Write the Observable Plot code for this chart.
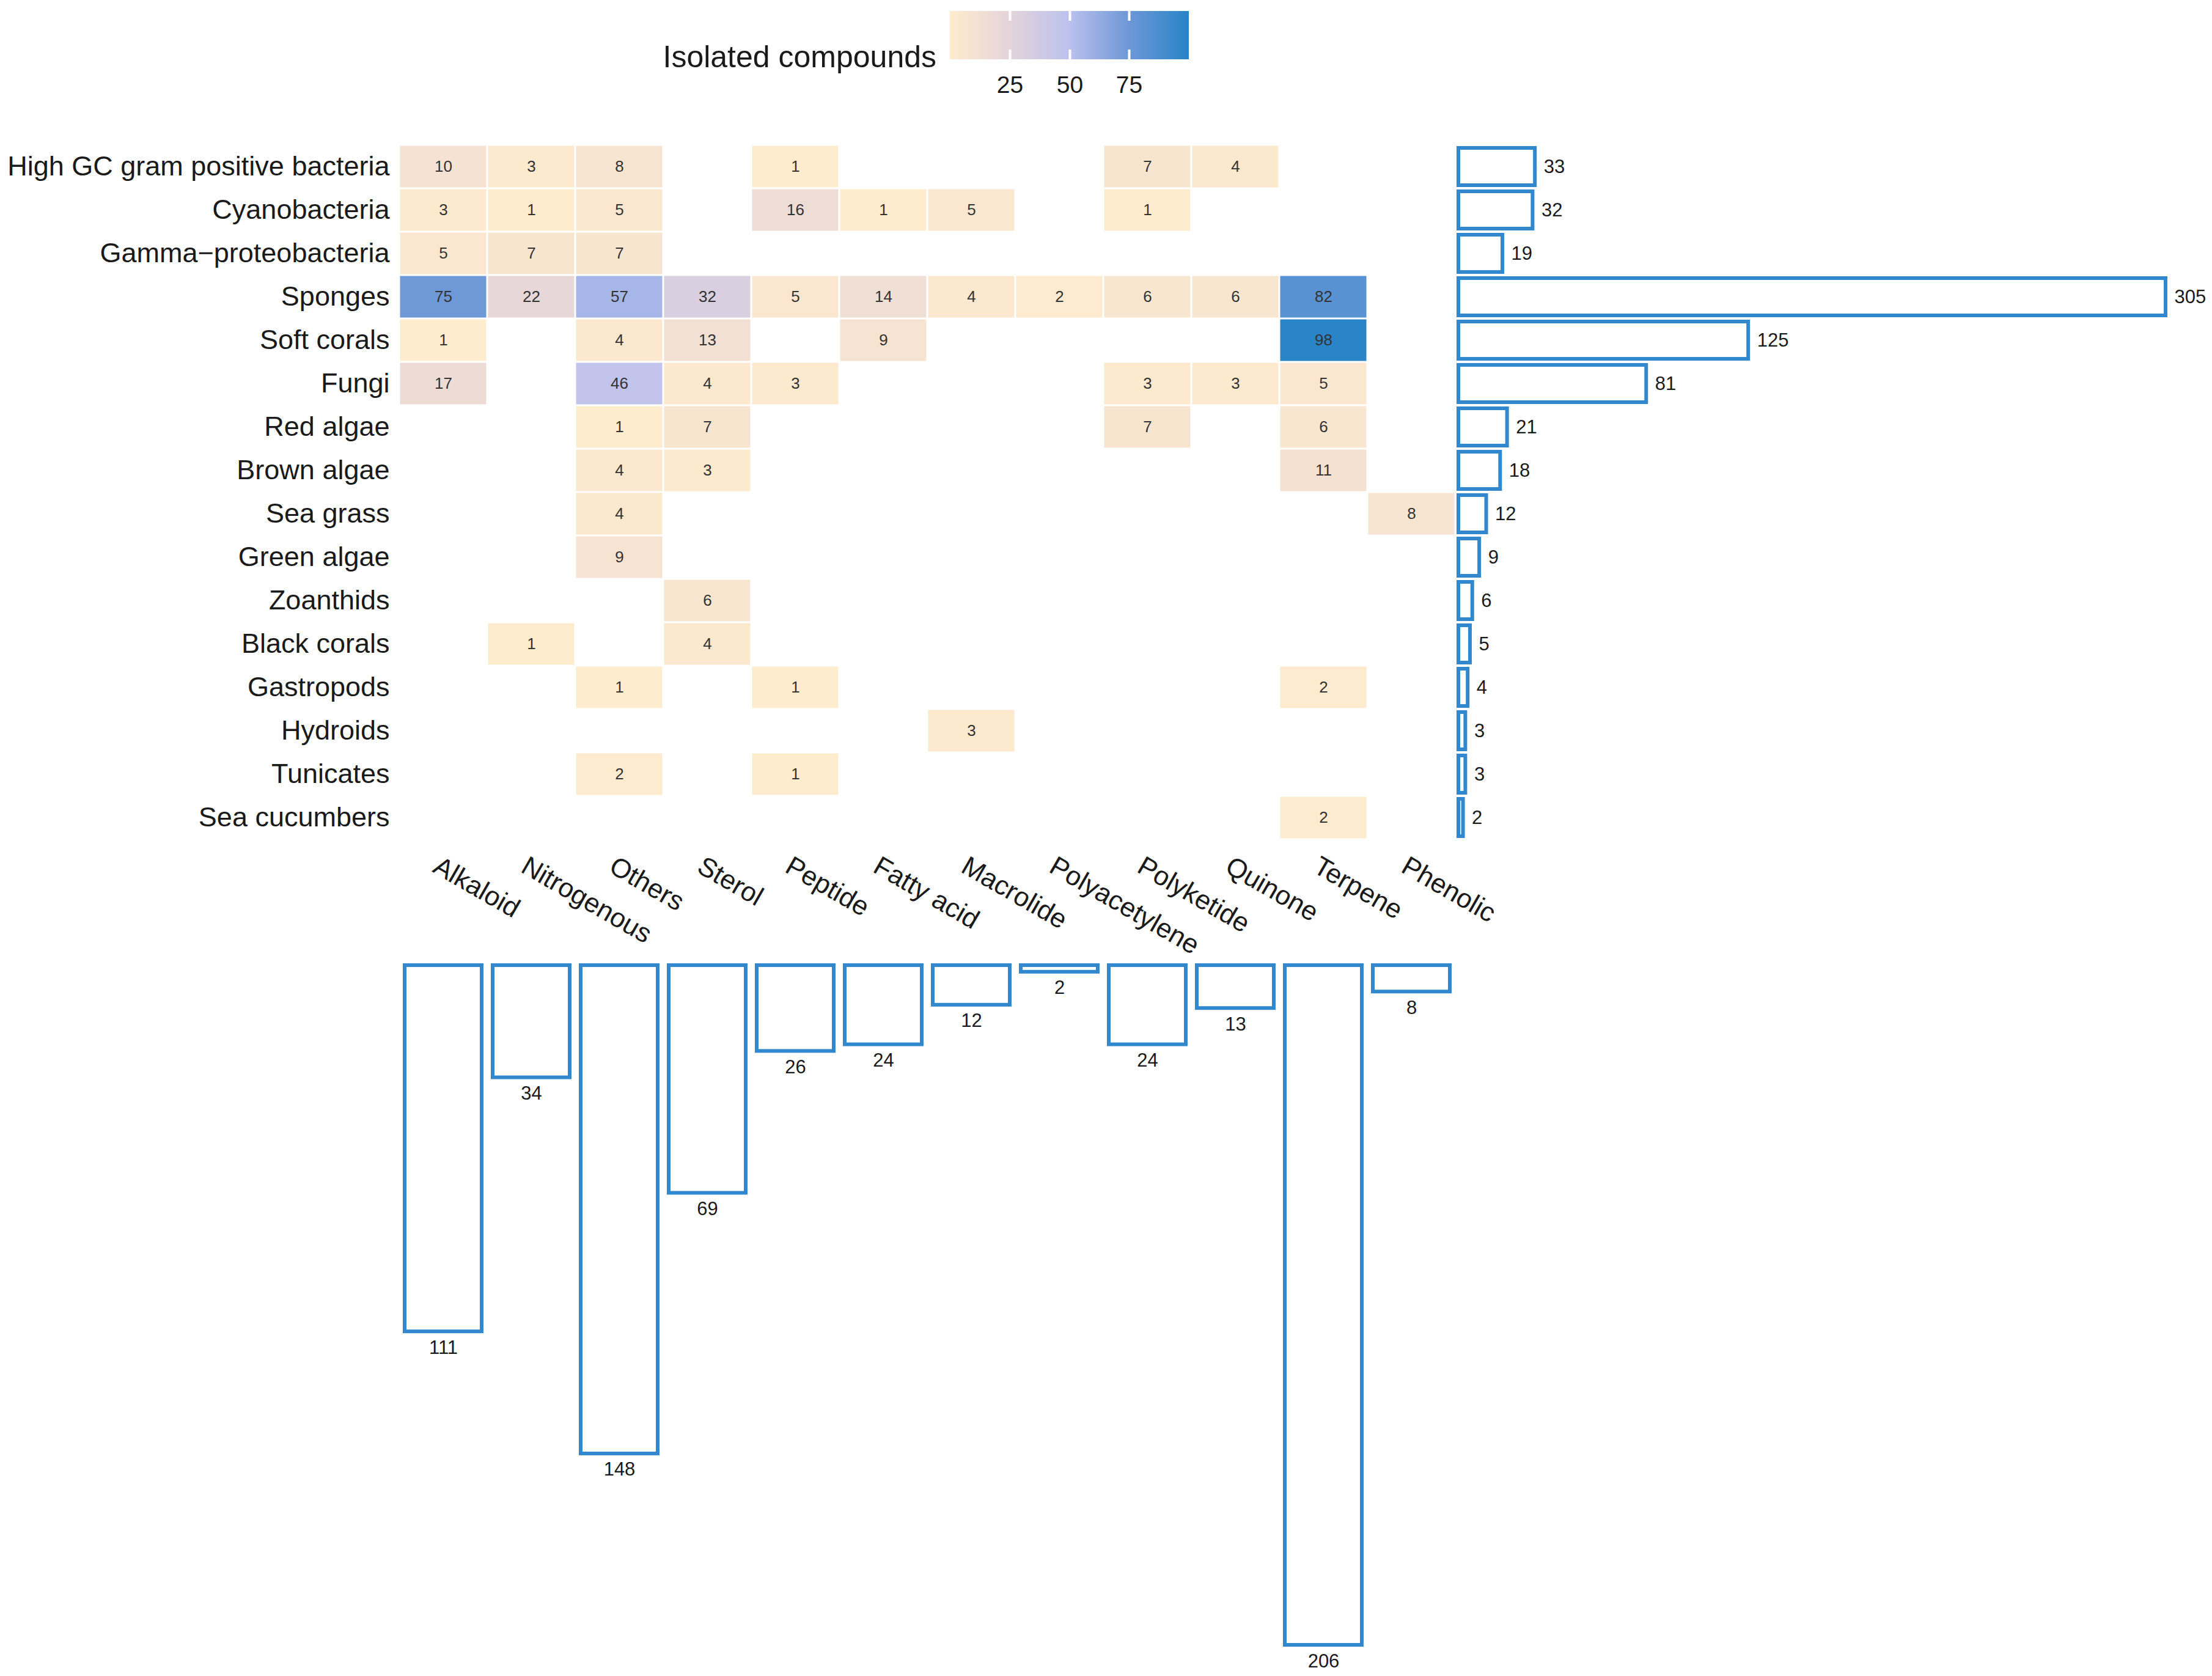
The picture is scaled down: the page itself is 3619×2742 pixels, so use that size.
<!DOCTYPE html>
<html>
<head>
<meta charset="utf-8">
<script src="https://cdn.jsdelivr.net/npm/d3@7"></script>
<script src="https://cdn.jsdelivr.net/npm/@observablehq/plot@0.6"></script>
<style>
html, body { margin: 0; padding: 0; background: #fff; }
#root { position: relative; width: 3619px; height: 2742px; background: #fff; overflow: hidden; font-family: "Liberation Sans", Arial, sans-serif; }
.pane { position: absolute; }
#legend .tick line { stroke: #fff !important; stroke-width: 4px; stroke-dasharray: 16 47 16 200; }
#title { position: absolute; left: 0; width: 1532px; text-align: right; top: 68px; font-size: 50px; line-height: 50px; color: #1a1a1a; white-space: nowrap; }
</style>
</head>
<body>
<div id="root">
  <div id="title">Isolated compounds</div>
  <div id="legend" class="pane" style="left:1534px; top:0px;"></div>
  <div id="heat" class="pane" style="left:0px; top:0px;"></div>
  <div id="right" class="pane" style="left:2300px; top:0px;"></div>
  <div id="bottom" class="pane" style="left:0px; top:1500px;"></div>
</div>
<script>
// ---- data ----
const sources = ["High GC gram positive bacteria", "Cyanobacteria", "Gamma\u2212proteobacteria", "Sponges", "Soft corals", "Fungi", "Red algae", "Brown algae", "Sea grass", "Green algae", "Zoanthids", "Black corals", "Gastropods", "Hydroids", "Tunicates", "Sea cucumbers"];
const types = ["Alkaloid", "Nitrogenous", "Others", "Sterol", "Peptide", "Fatty acid", "Macrolide", "Polyacetylene", "Polyketide", "Quinone", "Terpene", "Phenolic"];
const _ = null;
const counts = [
  [10, 3, 8, _, 1, _, _, _, 7, 4, _, _],
  [3, 1, 5, _, 16, 1, 5, _, 1, _, _, _],
  [5, 7, 7, _, _, _, _, _, _, _, _, _],
  [75, 22, 57, 32, 5, 14, 4, 2, 6, 6, 82, _],
  [1, _, 4, 13, _, 9, _, _, _, _, 98, _],
  [17, _, 46, 4, 3, _, _, _, 3, 3, 5, _],
  [_, _, 1, 7, _, _, _, _, 7, _, 6, _],
  [_, _, 4, 3, _, _, _, _, _, _, 11, _],
  [_, _, 4, _, _, _, _, _, _, _, _, 8],
  [_, _, 9, _, _, _, _, _, _, _, _, _],
  [_, _, _, 6, _, _, _, _, _, _, _, _],
  [_, 1, _, 4, _, _, _, _, _, _, _, _],
  [_, _, 1, _, 1, _, _, _, _, _, 2, _],
  [_, _, _, _, _, _, 3, _, _, _, _, _],
  [_, _, 2, _, 1, _, _, _, _, _, _, _],
  [_, _, _, _, _, _, _, _, _, _, 2, _]
];
const sourceTotals = [33, 32, 19, 305, 125, 81, 21, 18, 12, 9, 6, 5, 4, 3, 3, 2];
const typeTotals = [111, 34, 148, 69, 26, 24, 12, 2, 24, 13, 206, 8];
const legendTicks = [25, 50, 75];
const colorStops = [1, 25, 50, 75, 98];
const colorRange = ["#FFEBCD", "#E4D4DA", "#BCC1EE", "#6E98D6", "#2A84C8"];

// ---- derived tables ----
const cells = sources.flatMap((s, i) => types.map((t, j) => ({source: s, type: t, value: counts[i][j]}))).filter(d => d.value != null);
const rowData = sources.map((s, i) => ({source: s, total: sourceTotals[i]}));
const colData = types.map((t, j) => ({type: t, total: typeTotals[j]}));

const FONT = "'Liberation Sans', Arial, sans-serif";
const BLUE = "#3188CE";
const TXT = "#1a1a1a";
const colorOpts = {type: "linear", domain: colorStops, range: colorRange, interpolate: "rgb"};
const baseStyle = {fontFamily: FONT, background: "transparent", overflow: "visible", maxWidth: "none"};

// ---- heatmap ----
const heat = Plot.plot({
  width: 2400, height: 1600,
  marginLeft: 651, marginRight: 18, marginTop: 235, marginBottom: 226,
  style: baseStyle,
  x: {type: "band", domain: types, padding: 0, axis: null},
  y: {type: "band", domain: sources, padding: 0},
  color: colorOpts,
  marks: [
    Plot.cell(cells, {x: "type", y: "source", fill: "value", inset: 1.5}),
    Plot.text(cells, {x: "type", y: "source", text: "value", fontSize: 26, fill: "#333"}),
    Plot.axisY({tickSize: 0, tickPadding: 14, fontSize: 45, fill: TXT, label: null}),
    Plot.text(types, {x: d => d, frameAnchor: "bottom", rotate: 30, textAnchor: "start", lineAnchor: "top", dx: -4, dy: 24, fontSize: 44, fill: TXT})
  ]
});
document.getElementById("heat").appendChild(heat);

// ---- right totals ----
const right = Plot.plot({
  width: 1319, height: 1420,
  marginLeft: 86, marginRight: 76, marginTop: 235, marginBottom: 46,
  style: baseStyle,
  x: {domain: [0, 305], axis: null},
  y: {type: "band", domain: sources, padding: 0, axis: null},
  marks: [
    Plot.barX(rowData, {x: "total", y: "source", fill: "white", stroke: BLUE, strokeWidth: 6, insetTop: 5, insetBottom: 5}),
    Plot.text(rowData, {x: "total", y: "source", text: "total", dx: 14, textAnchor: "start", fontSize: 31, fill: TXT})
  ]
});
document.getElementById("right").appendChild(right);

// ---- bottom totals ----
const bottom = Plot.plot({
  width: 2400, height: 1242,
  marginLeft: 651, marginRight: 18, marginTop: 79, marginBottom: 51,
  style: baseStyle,
  x: {type: "band", domain: types, padding: 0, axis: null},
  y: {domain: [0, 206], reverse: true, axis: null},
  marks: [
    Plot.barY(colData, {x: "type", y: "total", fill: "white", stroke: BLUE, strokeWidth: 6, insetLeft: 9, insetRight: 9}),
    Plot.text(colData, {x: "type", y: "total", text: "total", dy: 14, lineAnchor: "top", fontSize: 31, fill: TXT})
  ]
});
document.getElementById("bottom").appendChild(bottom);

// ---- legend ----
const leg = Plot.legend({
  color: colorOpts,
  ticks: legendTicks,
  label: null,
  width: 431, height: 177,
  marginTop: 18, marginBottom: 80, marginLeft: 20, marginRight: 20,
  tickSize: 24,
  style: {fontSize: "39px", fontFamily: FONT, color: TXT, background: "transparent", overflow: "visible", maxWidth: "none"}
});
document.getElementById("legend").appendChild(leg);
</script>
</body>
</html>
